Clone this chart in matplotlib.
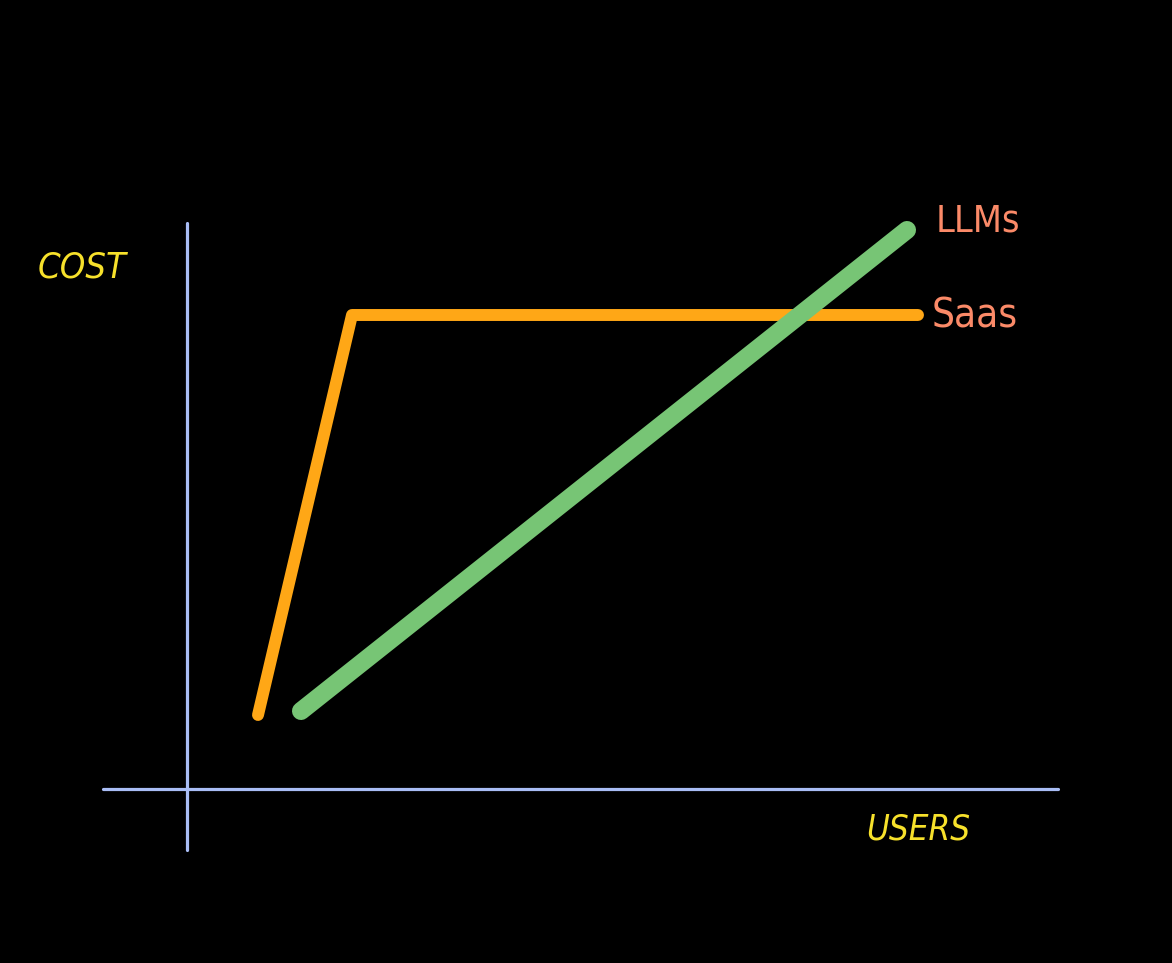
import matplotlib.pyplot as plt

# values in chart units (users, cost); the axis origin is (0, 0)
saas_users = [7.1, 16.5, 73.1]
saas_cost = [7.4, 47.4, 47.4]
llm_users = [11.4, 72.0]
llm_cost = [7.8, 55.9]

x_axis_span = [-8.4, 87.1]
y_axis_span = [-6.1, 56.6]

labels = {"cost": "COST", "users": "USERS", "llm": "LLMs", "saas": "Saas"}

bg = "black"
axis_color = "#a9bdf5"
label_color = "#f7e12b"
series_label_color = "#fb8a68"
saas_color = "#ffa716"
llm_color = "#77c575"

hand_font = ["DejaVu Sans"]

fig = plt.figure(figsize=(11.72, 9.63), dpi=100, facecolor=bg)
ax = fig.add_axes([0, 0, 1, 1])
ax.set_facecolor(bg)
ax.set_xlim(-18.7, 98.5)
ax.set_ylim(-17.4, 78.9)
ax.axis("off")

# hand-drawn axes
ax.plot(x_axis_span, [0, 0], color=axis_color, lw=2.3, solid_capstyle="round")
ax.plot([0, 0], y_axis_span, color=axis_color, lw=2.3, solid_capstyle="round")

ax.plot(saas_users, saas_cost, color=saas_color, lw=8.6,
        solid_capstyle="round", solid_joinstyle="round")
ax.plot(llm_users, llm_cost, color=llm_color, lw=13,
        solid_capstyle="round")

text_kw = dict(family=hand_font, fontstretch="condensed",
               va="center", ha="left")
ax.text(-14.9, 52.2, labels["cost"], color=label_color, fontsize=26,
        style="italic", **text_kw)
ax.text(67.9, -4.0, labels["users"], color=label_color, fontsize=25,
        style="italic", **text_kw)
ax.text(74.9, 56.8, labels["llm"], color=series_label_color, fontsize=27,
        **text_kw)
ax.text(74.5, 47.3, labels["saas"], color=series_label_color, fontsize=29,
        **text_kw)

fig.savefig("out.png", dpi=100, facecolor=bg)
plt.close(fig)
